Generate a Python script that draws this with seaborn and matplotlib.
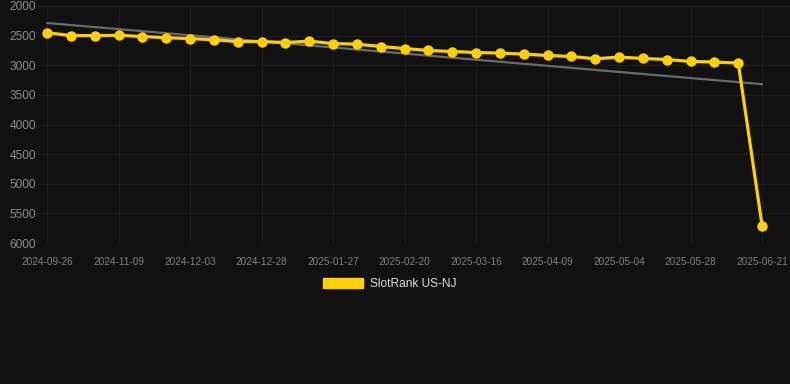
import numpy as np
import pandas as pd
import matplotlib
matplotlib.use("Agg")
import matplotlib.pyplot as plt
from matplotlib.patches import Patch
import seaborn as sns

# ---- data ----
ranks = [2450, 2500, 2500, 2495, 2515, 2535, 2550, 2570, 2600, 2600,
         2617, 2593, 2634, 2644, 2684, 2718, 2751, 2768, 2785, 2795,
         2812, 2835, 2852, 2891, 2862, 2886, 2903, 2936, 2946, 2963,
         5710]
tick_labels = ["2024-09-26", "2024-11-09", "2024-12-03", "2024-12-28",
               "2025-01-27", "2025-02-20", "2025-03-16", "2025-04-09",
               "2025-05-04", "2025-05-28", "2025-06-21"]
series_name = "SlotRank US-NJ"
y_ticks = [2000, 2500, 3000, 3500, 4000, 4500, 5000, 5500, 6000]

BG = "#111111"
GRID = "#1d1d1d"
YELLOW = "#FFD000"
TREND = "#6b6b6b"

sns.set_theme(style="dark")
plt.rcParams["font.family"] = ["Liberation Sans", "DejaVu Sans"]

df = pd.DataFrame({"idx": np.arange(len(ranks)), "rank": ranks})

fig = plt.figure(figsize=(7.9, 3.84), dpi=100, facecolor=BG)
ax = fig.add_axes([38 / 790, 1 - 243 / 384, 752 / 790, 237 / 384])
ax.set_facecolor(BG)

# trend line (least-squares fit of the series)
coef = np.polyfit(df["idx"], df["rank"], 1)
trend = pd.DataFrame({"idx": [0, len(ranks) - 1]})
trend["rank"] = np.polyval(coef, trend["idx"])
sns.lineplot(data=trend, x="idx", y="rank", ax=ax, color=TREND, lw=1.6, zorder=2)

sns.lineplot(data=df, x="idx", y="rank", ax=ax, color=YELLOW, lw=2.3,
             marker="o", markersize=7.5, markeredgewidth=0,
             markerfacecolor=YELLOW, zorder=3)

ax.set_ylim(6000, 2000)
ax.set_xlim(-0.38, len(ranks) - 1 + 1.17)
ax.set_yticks(y_ticks)
ax.set_yticklabels([str(v) for v in y_ticks])
tick_pos = list(range(0, len(ranks), 3))
ax.set_xticks(tick_pos)
ax.set_xticklabels(tick_labels)

ax.grid(True, color=GRID, lw=0.8)
ax.tick_params(axis="y", colors="#8a8a8a", labelsize=8.6, length=0, pad=1.5)
ax.tick_params(axis="x", colors="#808080", labelsize=7.2, length=0, pad=10)
for s in ax.spines.values():
    s.set_visible(False)
ax.set_xlabel("")
ax.set_ylabel("")

handle = Patch(facecolor=YELLOW, edgecolor=YELLOW)
leg = fig.legend([handle], [series_name], loc="center",
                 bbox_to_anchor=(390 / 790, 1 - 284 / 384), frameon=False,
                 handlelength=3.3, handleheight=0.9, handletextpad=0.6,
                 fontsize=8.6)
for t in leg.get_texts():
    t.set_color("#dddddd")

fig.savefig("out.png", dpi=100, facecolor=BG)
